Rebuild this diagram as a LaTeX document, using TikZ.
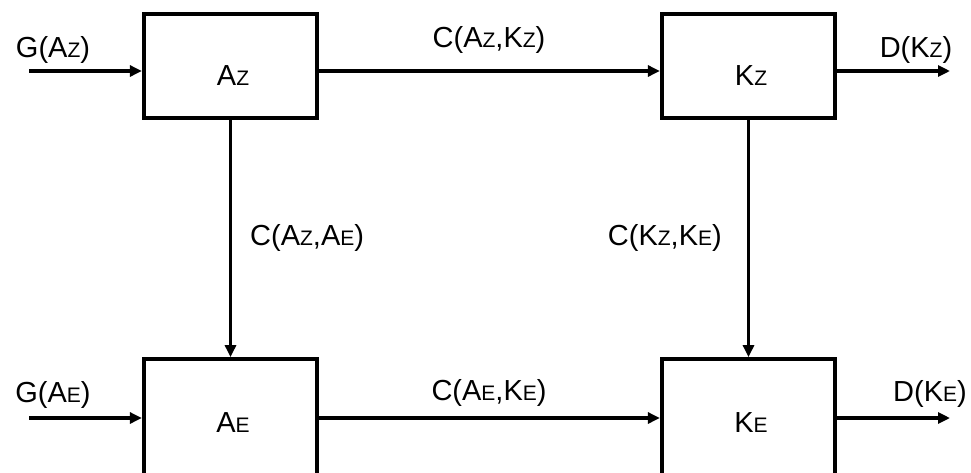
\documentclass[tikz,border=0pt]{standalone}
\usepackage{fontspec}
\setmainfont{Liberation Sans}
\usetikzlibrary{arrows.meta}
\newcommand{\sm}[1]{{\fontsize{21}{21}\selectfont #1}}
\tikzset{
  box/.style={draw, line width=3.8pt, minimum width=173.5pt, inner sep=0pt},
  lab/.style={inner sep=0pt, font=\fontsize{29}{31}\selectfont},
  arr/.style={line width=3.6pt, -{Triangle[length=12pt,width=11pt]}},
}
\begin{document}
\begin{tikzpicture}[x=1pt,y=-1pt]
\useasboundingbox (0,0) rectangle (971,472);
\clip (0,0) rectangle (971,472);
% boxes
\node[box, minimum height=104.5pt] (Az) at (230.5,66) {};
\node[box, minimum height=104.5pt] (Kz) at (748.5,66) {};
\node[box, minimum height=130pt] (AE) at (230.5,424) {};
\node[box, minimum height=130pt] (KE) at (748.5,424) {};
% box texts
\node[lab] (tAz) at (233,76) {A\sm{Z}};
\node[lab] (tKz) at (751,76) {K\sm{Z}};
\node[lab] (tAE) at (233,423) {A\sm{E}};
\node[lab] (tKE) at (751,423) {K\sm{E}};
% free ends
\coordinate (gAzs) at (29,71);
\coordinate (gAEs) at (29,418);
\coordinate (dKze) at (950,71);
\coordinate (dKEe) at (950,418);
% connectors
\draw[arr] (gAzs) -- ([yshift=-5pt]Az.west);
\draw[arr] (gAEs) -- ([yshift=6pt]AE.west);
\draw[arr] ([yshift=-5pt]Kz.east) -- (dKze);
\draw[arr] ([yshift=6pt]KE.east) -- (dKEe);
\draw[arr] ([yshift=-5pt]Az.east) -- ([yshift=-5pt]Kz.west);
\draw[arr] ([yshift=6pt]AE.east) -- ([yshift=6pt]KE.west);
\draw[arr] (Az.south) -- (AE.north);
\draw[arr] (Kz.south) -- (KE.north);
% labels
\node[lab] (gAz) at (53,50) {G(A\sm{Z})};
\node[lab] (gAE) at (53,395) {G(A\sm{E})};
\node[lab] (dKz) at (916,50) {D(K\sm{Z})};
\node[lab] (dKE) at (930,394) {D(K\sm{E})};
\node[lab] (cAK) at (489,40) {C(A\sm{Z},K\sm{Z})};
\node[lab] (cAKE) at (489,393) {C(A\sm{E},K\sm{E})};
\node[lab, anchor=west] (cAA) at (250,238) {C(A\sm{Z},A\sm{E})};
\node[lab, anchor=east] (cKK) at (722,238) {C(K\sm{Z},K\sm{E})};
\end{tikzpicture}
\end{document}
